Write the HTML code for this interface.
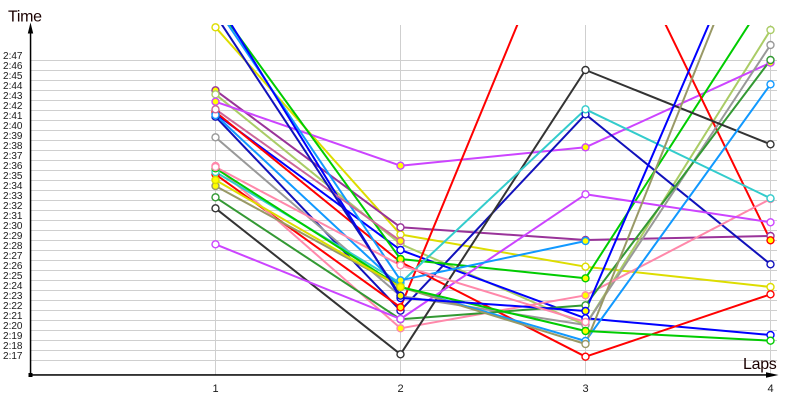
<!DOCTYPE html>
<html><head><meta charset="utf-8"><style>
html,body{margin:0;padding:0;background:#fff;width:800px;height:400px;overflow:hidden}
svg{display:block;font-family:"Liberation Sans",sans-serif}
</style></head><body>
<svg width="800" height="400" viewBox="0 0 800 400" xmlns="http://www.w3.org/2000/svg">
<defs><clipPath id="c"><rect x="31" y="25" width="760" height="349"/></clipPath></defs>
<rect width="800" height="400" fill="#fff"/>
<g stroke="#cfcfcf" stroke-width="1" fill="none">
<path d="M31 60.5H777M31 70.5H777M31 80.5H777M31 90.5H777M31 100.5H777M31 110.5H777M31 120.5H777M31 130.5H777M31 140.5H777M31 150.5H777M31 160.5H777M31 170.5H777M31 180.5H777M31 190.5H777M31 200.5H777M31 210.5H777M31 220.5H777M31 230.5H777M31 240.5H777M31 250.5H777M31 260.5H777M31 270.5H777M31 280.5H777M31 290.5H777M31 300.5H777M31 310.5H777M31 320.5H777M31 330.5H777M31 340.5H777M31 350.5H777M31 360.5H777"/>
<path d="M215.5 25V375M400.5 25V375M585.5 25V375M770.5 25V375"/>
</g>
<g font-size="10" fill="#1a1a1a" text-anchor="end">
<text x="22.5" y="59">2:47</text><text x="22.5" y="69">2:46</text><text x="22.5" y="79">2:45</text><text x="22.5" y="89">2:44</text><text x="22.5" y="99">2:43</text><text x="22.5" y="109">2:42</text><text x="22.5" y="119">2:41</text><text x="22.5" y="129">2:40</text><text x="22.5" y="139">2:39</text><text x="22.5" y="149">2:38</text><text x="22.5" y="159">2:37</text><text x="22.5" y="169">2:36</text><text x="22.5" y="179">2:35</text><text x="22.5" y="189">2:34</text><text x="22.5" y="199">2:33</text><text x="22.5" y="209">2:32</text><text x="22.5" y="219">2:31</text><text x="22.5" y="229">2:30</text><text x="22.5" y="239">2:29</text><text x="22.5" y="249">2:28</text><text x="22.5" y="259">2:27</text><text x="22.5" y="269">2:26</text><text x="22.5" y="279">2:25</text><text x="22.5" y="289">2:24</text><text x="22.5" y="299">2:23</text><text x="22.5" y="309">2:22</text><text x="22.5" y="319">2:21</text><text x="22.5" y="329">2:20</text><text x="22.5" y="339">2:19</text><text x="22.5" y="349">2:18</text><text x="22.5" y="359">2:17</text>
</g>
<g font-size="11" fill="#1a1a1a" text-anchor="middle">
<text x="215.5" y="392">1</text><text x="400.5" y="392">2</text><text x="585.5" y="392">3</text><text x="770.5" y="392">4</text>
</g>
<text x="8" y="21.5" font-size="16" fill="#1a0000" letter-spacing="-0.3">Time</text>
<text x="743" y="369" font-size="16" fill="#1a0000" letter-spacing="-0.3">Laps</text>
<g clip-path="url(#c)" fill="none" stroke-width="2" stroke-linejoin="round">
<polyline stroke="#dddd00" points="215.5,27.3 400.5,234.5 585.5,266.7 770.5,287"/>
<polyline stroke="#993399" points="215.5,90.3 400.5,227.3 585.5,240 770.5,236"/>
<polyline stroke="#aacc66" points="215.5,94.3 400.5,244 585.5,325 770.5,30"/>
<polyline stroke="#cc44ff" points="215.5,101.7 400.5,165.7 585.5,147.3 770.5,62.7"/>
<polyline stroke="#0000ff" points="215.5,113.7 400.5,250 585.5,318.3 770.5,335"/>
<polyline stroke="#1111bb" points="215.5,116.7 400.5,310.7 585.5,114.3 770.5,264.3"/>
<polyline stroke="#ff0000" points="215.5,112 400.5,262 585.5,356.7 770.5,294.3"/>
<polyline stroke="#00cc00" points="215.5,4.3 400.5,259 585.5,278.3 770.5,-9"/>
<polyline stroke="#ff0000" points="215.5,174.3 400.5,307.3 585.5,-140 770.5,240.3"/>
<polyline stroke="#999999" points="215.5,137.3 400.5,296 585.5,325 770.5,45"/>
<polyline stroke="#ff88aa" points="215.5,166 400.5,328.3 585.5,295.3 770.5,199"/>
<polyline stroke="#339933" points="215.5,197.3 400.5,319.3 585.5,305.3 770.5,60"/>
<polyline stroke="#333333" points="215.5,208.3 400.5,354.3 585.5,70 770.5,144.3"/>
<polyline stroke="#cc44ff" points="215.5,244.3 400.5,319 585.5,194.3 770.5,222.3"/>
<polyline stroke="#33cccc" points="215.5,172 400.5,283 585.5,109.3 770.5,198.3"/>
<polyline stroke="#1199ff" points="215.5,6 400.5,280.3 585.5,241"/>
<polyline stroke="#1199ff" points="215.5,115 400.5,287 585.5,341 770.5,84.3"/>
<polyline stroke="#999966" points="215.5,186 400.5,287 585.5,344 770.5,-117"/>
<polyline stroke="#00cc00" points="215.5,168.3 400.5,287 585.5,331 770.5,340.7"/>
<polyline stroke="#0000ff" points="215.5,-1 400.5,298 585.5,311 770.5,-119"/>
<polyline stroke="#dddd00" points="215.5,180 400.5,287"/>
<polyline stroke="#cc6699" points="215.5,109.3 400.5,241"/>
<polyline stroke="#ff88aa" points="215.5,167 400.5,265.3 585.5,322"/>
<polyline stroke="#1111bb" points="215.5,15 400.5,295.7"/>
</g>
<g stroke-width="1.4" fill="#fff">
<circle cx="215.5" cy="27.3" r="3.5" stroke="#dddd00"/><circle cx="400.5" cy="234.5" r="3.5" stroke="#dddd00"/><circle cx="585.5" cy="266.7" r="3.5" stroke="#dddd00"/><circle cx="770.5" cy="287" r="3.5" stroke="#dddd00"/>
<circle cx="215.5" cy="90.3" r="3.5" stroke="#993399" fill="#ffff00"/><circle cx="400.5" cy="227.3" r="3.5" stroke="#993399"/><circle cx="585.5" cy="240" r="3.5" stroke="#993399"/><circle cx="770.5" cy="236" r="3.5" stroke="#993399"/>
<circle cx="215.5" cy="94.3" r="3.5" stroke="#aacc66"/><circle cx="400.5" cy="244" r="3.5" stroke="#aacc66"/><circle cx="585.5" cy="325" r="3.5" stroke="#aacc66"/><circle cx="770.5" cy="30" r="3.5" stroke="#aacc66"/>
<circle cx="215.5" cy="101.7" r="3.5" stroke="#cc44ff" fill="#ffff00"/><circle cx="400.5" cy="165.7" r="3.5" stroke="#cc44ff" fill="#ffff00"/><circle cx="585.5" cy="147.3" r="3.5" stroke="#cc44ff" fill="#ffff00"/><circle cx="770.5" cy="62.7" r="3.5" stroke="#cc44ff" fill="#ffff00"/>
<circle cx="215.5" cy="113.7" r="3.5" stroke="#0000ff"/><circle cx="400.5" cy="250" r="3.5" stroke="#0000ff"/><circle cx="585.5" cy="318.3" r="3.5" stroke="#0000ff"/><circle cx="770.5" cy="335" r="3.5" stroke="#0000ff"/>
<circle cx="215.5" cy="116.7" r="3.5" stroke="#1111bb"/><circle cx="400.5" cy="310.7" r="3.5" stroke="#1111bb"/><circle cx="585.5" cy="114.3" r="3.5" stroke="#1111bb"/><circle cx="770.5" cy="264.3" r="3.5" stroke="#1111bb"/>
<circle cx="215.5" cy="112" r="3.5" stroke="#ff0000"/><circle cx="400.5" cy="262" r="3.5" stroke="#ff0000"/><circle cx="585.5" cy="356.7" r="3.5" stroke="#ff0000"/><circle cx="770.5" cy="294.3" r="3.5" stroke="#ff0000"/>
<circle cx="400.5" cy="259" r="3.5" stroke="#00cc00" fill="#ffff00"/><circle cx="585.5" cy="278.3" r="3.5" stroke="#00cc00" fill="#ffff00"/>
<circle cx="215.5" cy="174.3" r="3.5" stroke="#ff0000" fill="#ffff00"/><circle cx="400.5" cy="307.3" r="3.5" stroke="#ff0000" fill="#ffff00"/><circle cx="770.5" cy="240.3" r="3.5" stroke="#ff0000" fill="#ffff00"/>
<circle cx="215.5" cy="137.3" r="3.5" stroke="#999999"/><circle cx="400.5" cy="296" r="3.5" stroke="#999999"/><circle cx="585.5" cy="325" r="3.5" stroke="#999999"/><circle cx="770.5" cy="45" r="3.5" stroke="#999999"/>
<circle cx="215.5" cy="166" r="3.5" stroke="#ff88aa"/><circle cx="400.5" cy="328.3" r="3.5" stroke="#ff88aa" fill="#ffff00"/><circle cx="585.5" cy="295.3" r="3.5" stroke="#ff88aa" fill="#ffff00"/><circle cx="770.5" cy="199" r="3.5" stroke="#ff88aa"/>
<circle cx="215.5" cy="197.3" r="3.5" stroke="#339933"/><circle cx="400.5" cy="319.3" r="3.5" stroke="#339933"/><circle cx="585.5" cy="305.3" r="3.5" stroke="#339933"/><circle cx="770.5" cy="60" r="3.5" stroke="#339933"/>
<circle cx="215.5" cy="208.3" r="3.5" stroke="#333333"/><circle cx="400.5" cy="354.3" r="3.5" stroke="#333333"/><circle cx="585.5" cy="70" r="3.5" stroke="#333333"/><circle cx="770.5" cy="144.3" r="3.5" stroke="#333333"/>
<circle cx="215.5" cy="244.3" r="3.5" stroke="#cc44ff"/><circle cx="400.5" cy="319" r="3.5" stroke="#cc44ff"/><circle cx="585.5" cy="194.3" r="3.5" stroke="#cc44ff"/><circle cx="770.5" cy="222.3" r="3.5" stroke="#cc44ff"/>
<circle cx="215.5" cy="172" r="3.5" stroke="#33cccc"/><circle cx="400.5" cy="283" r="3.5" stroke="#33cccc"/><circle cx="585.5" cy="109.3" r="3.5" stroke="#33cccc"/><circle cx="770.5" cy="198.3" r="3.5" stroke="#33cccc"/>
<circle cx="400.5" cy="280.3" r="3.5" stroke="#1199ff" fill="#ffff00"/><circle cx="585.5" cy="241" r="3.5" stroke="#1199ff" fill="#ffff00"/>
<circle cx="215.5" cy="115" r="3.5" stroke="#1199ff"/><circle cx="400.5" cy="287" r="3.5" stroke="#1199ff"/><circle cx="585.5" cy="341" r="3.5" stroke="#1199ff"/><circle cx="770.5" cy="84.3" r="3.5" stroke="#1199ff"/>
<circle cx="215.5" cy="186" r="3.5" stroke="#999966" fill="#ffff00"/><circle cx="400.5" cy="287" r="3.5" stroke="#999966"/><circle cx="585.5" cy="344" r="3.5" stroke="#999966"/>
<circle cx="215.5" cy="168.3" r="3.5" stroke="#00cc00" fill="#ffff00"/><circle cx="400.5" cy="287" r="3.5" stroke="#00cc00"/><circle cx="585.5" cy="331" r="3.5" stroke="#00cc00" fill="#ffff00"/><circle cx="770.5" cy="340.7" r="3.5" stroke="#00cc00"/>
<circle cx="400.5" cy="298" r="3.5" stroke="#0000ff"/><circle cx="585.5" cy="311" r="3.5" stroke="#0000ff" fill="#ffff00"/>
<circle cx="215.5" cy="180" r="3.5" stroke="#dddd00" fill="#ffff00"/><circle cx="400.5" cy="287" r="3.5" stroke="#dddd00" fill="#ffff00"/>
<circle cx="215.5" cy="109.3" r="3.5" stroke="#cc6699"/><circle cx="400.5" cy="241" r="3.5" stroke="#cc6699" fill="#ffff00"/>
<circle cx="215.5" cy="167" r="3.5" stroke="#ff88aa"/><circle cx="400.5" cy="265.3" r="3.5" stroke="#ff88aa"/><circle cx="585.5" cy="322" r="3.5" stroke="#ff88aa"/>
<circle cx="400.5" cy="295.7" r="3.5" stroke="#1111bb" fill="#ffff00"/>
</g>
<g fill="#000" stroke="none">
<rect x="29.8" y="32" width="1.5" height="343.5"/>
<rect x="30" y="374.2" width="738" height="1.5"/>
<polygon points="30.5,22.5 27.8,33.5 33.2,33.5"/>
<polygon points="778.5,375 766,372.3 766,377.7"/>
<rect x="28.5" y="373" width="4" height="4"/>
</g>
</svg>
</body></html>
